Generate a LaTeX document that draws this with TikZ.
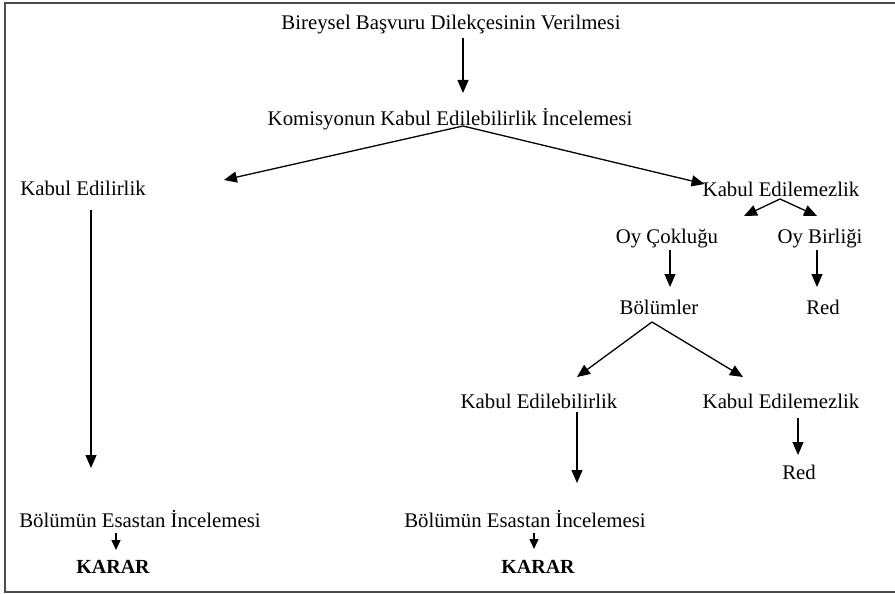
\documentclass[tikz,border=0pt]{standalone}
\usepackage{fontspec}
\setmainfont{Liberation Serif}
\usetikzlibrary{arrows.meta}
\begin{document}
\begin{tikzpicture}[x=1pt,y=-1pt,
  lbl/.style={inner sep=0pt,anchor=base,font=\fontsize{20.8}{24}\selectfont},
  bold/.style={lbl,font=\fontsize{20}{24}\selectfont\bfseries},
  arr/.style={line width=1.3pt,-{Triangle[length=13pt,width=11pt]}},
  sarr/.style={line width=1.3pt,-{Triangle[length=10pt,width=9pt]}},
  frame/.style={line width=1.6pt,draw=black!70}]
\useasboundingbox (0,0) rectangle (895,594);
\draw[frame] (895,3) -- (5,3) -- (5,592) -- (895,592);
% nodes
\node[lbl] (bir) at (451,30) {Bireysel Başvuru Dilekçesinin Verilmesi};
\node[lbl] (kom) at (450,125) {Komisyonun Kabul Edilebilirlik İncelemesi};
\node[lbl] (ke) at (83,195) {Kabul Edilirlik};
\node[lbl] (kem) at (781,196) {Kabul Edilemezlik};
\node[lbl] (oyc) at (667,243) {Oy Çokluğu};
\node[lbl] (oyb) at (820,243) {Oy Birliği};
\node[lbl] (bol) at (659,314) {Bölümler};
\node[lbl] (red1) at (823,314) {Red};
\node[lbl] (keb) at (539,408) {Kabul Edilebilirlik};
\node[lbl] (kem2) at (781,408) {Kabul Edilemezlik};
\node[lbl] (red2) at (799,479) {Red};
\node[lbl] (bei1) at (140,527) {Bölümün Esastan İncelemesi};
\node[bold] (kar1) at (113,573) {KARAR};
\node[lbl] (bei2) at (525,527) {Bölümün Esastan İncelemesi};
\node[bold] (kar2) at (538,573) {KARAR};
% connectors
\coordinate (komtop) at (463,93);
\coordinate (kombot) at (463,126);
\coordinate (kemap) at (780,199);
\coordinate (bolap) at (652,322);
\draw[arr] ([yshift=-8pt]bir.base -| komtop) -- (komtop);
\draw[arr] (kombot) -- ([xshift=78pt,yshift=15pt]ke.base east);
\draw[arr] (kombot) -- ([xshift=2pt,yshift=12pt]kem.base west);
\draw[arr] ([xshift=8pt,yshift=-15pt]ke.base) -- ([xshift=-49pt,yshift=59pt]bei1.base);
\draw[arr] (kemap) -- ([xshift=77pt,yshift=27pt]oyc.base);
\draw[arr] (kemap) -- ([xshift=-3pt,yshift=27pt]oyb.base);
\draw[arr] ([xshift=3pt,yshift=-7pt]oyc.base) -- ([xshift=11pt,yshift=27pt]bol.base);
\draw[arr] ([xshift=-3pt,yshift=-7pt]oyb.base) -- ([xshift=-6pt,yshift=27pt]red1.base);
\draw[arr] (bolap) -- ([xshift=38pt,yshift=31pt]keb.base);
\draw[arr] (bolap) -- ([xshift=-38pt,yshift=31pt]kem2.base);
\draw[arr] ([xshift=38pt,yshift=-4pt]keb.base) -- ([xshift=52pt,yshift=44pt]bei2.base);
\draw[arr] ([xshift=17pt,yshift=-10pt]kem2.base) -- ([xshift=-1pt,yshift=24pt]red2.base);
\draw[sarr] ([xshift=-24pt,yshift=-6pt]bei1.base) -- ([xshift=3pt,yshift=23pt]kar1.base);
\draw[sarr] ([xshift=9pt,yshift=-6pt]bei2.base) -- ([xshift=-4pt,yshift=24pt]kar2.base);
\end{tikzpicture}
\end{document}
